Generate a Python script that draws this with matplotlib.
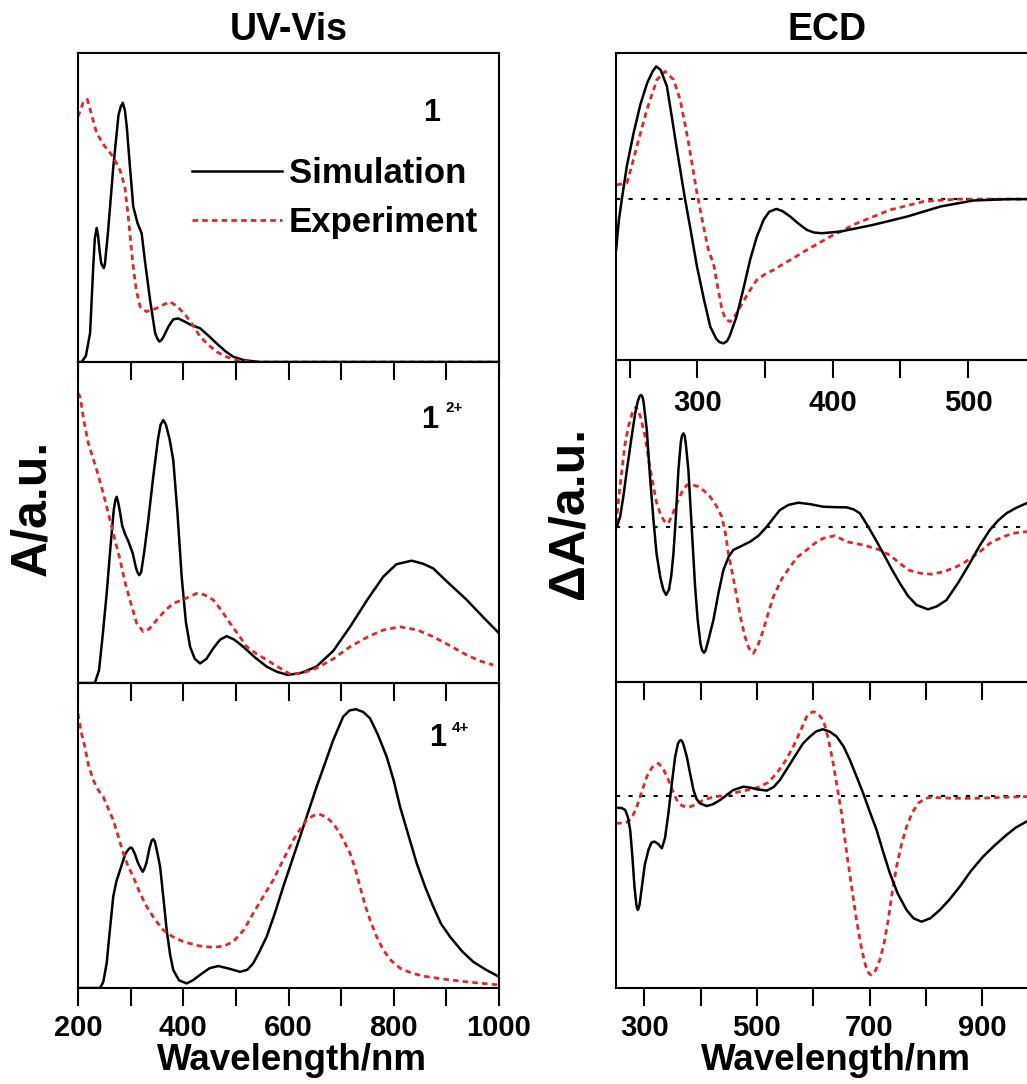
import matplotlib
matplotlib.use('Agg')
from matplotlib import pyplot as plt

plt.rcParams['font.family'] = ['Liberation Sans', 'DejaVu Sans']
plt.rcParams['font.weight'] = 'bold'

# ---------------- UV-Vis data (a.u.) ----------------
uv1_sim_nm = [200, 207, 215, 223, 229, 232, 235.5, 238, 241, 244, 247, 249, 251, 257, 267, 277, 281, 285,
              289, 292.6, 298.7, 305, 313, 321, 327, 337, 346.6, 351, 354.5, 358, 362, 372, 381, 390.6,
              400, 415, 432, 448, 463.5, 480, 495, 515, 546, 1000]
uv1_sim = [0, 0, 0.02, 0.094, 0.31, 0.40, 0.434, 0.41, 0.36, 0.32, 0.31, 0.304, 0.315, 0.42, 0.63, 0.80,
           0.825, 0.839, 0.815, 0.763, 0.632, 0.503, 0.45, 0.416, 0.33, 0.2, 0.093, 0.075, 0.066, 0.07, 0.08,
           0.115, 0.138, 0.141, 0.133, 0.12, 0.109, 0.085, 0.06, 0.035, 0.017, 0.006, 0, 0]
uv1_exp_nm = [200, 210, 217.7, 226, 235.5, 250, 267, 280, 289, 295.6, 300, 305, 311, 318, 330, 349.5,
              362, 375, 390, 406.5, 420, 432, 448, 463.5, 480, 501.5, 530, 1000]
uv1_exp = [0.794, 0.84, 0.85, 0.8, 0.74, 0.7, 0.664, 0.62, 0.567, 0.47, 0.39, 0.308, 0.23, 0.179, 0.163, 0.174,
           0.185, 0.195, 0.178, 0.147, 0.115, 0.082, 0.055, 0.033, 0.018, 0.006, 0, 0]

uv2_sim_nm = [200, 232, 240, 247, 254.5, 262, 268, 271, 273.5, 276, 279, 284, 289, 296, 304, 310, 313,
              316.5, 320, 326, 333, 343, 352, 357, 362, 367, 374, 381, 389, 397, 405, 413, 422, 432, 444,
              457, 470, 482.5, 497, 514, 536, 558.5, 578, 599, 625, 653, 685, 717, 750, 780, 805, 834,
              855, 875, 905, 938.7, 970, 1000]
uv2_sim = [0, 0, 0.04, 0.15, 0.279, 0.43, 0.54, 0.57, 0.58, 0.565, 0.54, 0.49, 0.466, 0.44, 0.404, 0.36, 0.345,
           0.336, 0.345, 0.41, 0.5, 0.643, 0.76, 0.805, 0.819, 0.805, 0.76, 0.695, 0.53, 0.331, 0.19, 0.113,
           0.075, 0.061, 0.075, 0.108, 0.135, 0.146, 0.135, 0.113, 0.08, 0.051, 0.035, 0.025, 0.032, 0.051,
           0.1, 0.175, 0.26, 0.331, 0.37, 0.381, 0.372, 0.357, 0.31, 0.259, 0.205, 0.155]
uv2_exp_nm = [200, 204, 212, 219.6, 235.5, 248, 264, 280, 290, 298.6, 311.5, 324, 335, 349.5, 365, 381,
              400, 425.5, 440, 457, 473, 489, 505, 520.5, 540, 558.5, 580, 603, 625, 653, 685, 717, 750,
              780, 812, 845, 875, 905, 938.7, 965, 989]
uv2_exp = [0.903, 0.892, 0.81, 0.747, 0.664, 0.591, 0.487, 0.383, 0.31, 0.259, 0.186, 0.16, 0.168, 0.196,
           0.225, 0.248, 0.26, 0.279, 0.275, 0.259, 0.225, 0.186, 0.15, 0.113, 0.09, 0.072, 0.05, 0.028, 0.03,
           0.046, 0.075, 0.113, 0.143, 0.165, 0.175, 0.165, 0.144, 0.118, 0.087, 0.068, 0.056]

uv3_sim_nm = [200, 242, 248, 254.5, 260, 267, 273, 280, 290, 296, 300, 303, 308, 314, 320, 323, 326, 330,
              336, 340, 343, 346, 350, 356, 362, 368.5, 375, 381, 392, 406.5, 418, 432, 450, 466.6, 488,
              508, 522, 533, 545, 558.5, 575, 590, 606, 622, 638, 653.5, 670, 685, 704, 716, 728, 742, 755,
              770, 786.6, 800, 812, 828, 843.6, 860, 875, 890, 907, 930, 951, 975, 1000]
uv3_sim = [0, 0, 0.02, 0.081, 0.18, 0.3, 0.35, 0.387, 0.44, 0.455, 0.461, 0.458, 0.44, 0.41, 0.39, 0.381,
           0.39, 0.41, 0.46, 0.483, 0.488, 0.48, 0.45, 0.398, 0.3, 0.19, 0.11, 0.059, 0.025, 0.015, 0.025,
           0.043, 0.065, 0.072, 0.063, 0.053, 0.06, 0.081, 0.12, 0.168, 0.25, 0.332, 0.414, 0.496, 0.58,
           0.66, 0.74, 0.813, 0.89, 0.91, 0.914, 0.905, 0.884, 0.83, 0.758, 0.68, 0.594, 0.5, 0.409, 0.33,
           0.267, 0.21, 0.168, 0.12, 0.086, 0.06, 0.037]
uv3_exp_nm = [200, 206, 213, 220, 229, 238, 248, 257, 267, 276, 286, 295, 305, 318, 330.5, 346, 362, 380,
              400, 430, 457, 478, 495, 515, 533, 552, 571, 590, 609, 622, 634.6, 647, 658.6, 672, 685,
              700, 717, 727, 736, 745, 755, 767, 780, 795, 812, 835, 862.6, 900, 938.7, 970, 999]
uv3_exp = [0.9, 0.84, 0.791, 0.73, 0.682, 0.65, 0.627, 0.59, 0.551, 0.5, 0.442, 0.4, 0.365, 0.31, 0.267,
           0.225, 0.19, 0.168, 0.152, 0.138, 0.133, 0.138, 0.152, 0.19, 0.245, 0.3, 0.354, 0.42, 0.485, 0.52,
           0.551, 0.565, 0.57, 0.56, 0.54, 0.5, 0.442, 0.39, 0.332, 0.275, 0.223, 0.17, 0.125, 0.09, 0.065,
           0.048, 0.037, 0.028, 0.02, 0.015, 0.01]

# ---------------- ECD data (a.u.) ----------------
ecd1_sim_nm = [240.1, 242, 244.3, 248, 253, 258, 263, 267, 269.7, 273, 277.6, 281, 285, 291, 295, 299.8,
               305, 309.6, 314, 316.5, 319.4, 322, 324, 329, 334, 339, 344, 349, 353, 358.4, 363, 368.7,
               375, 381, 386, 392, 405.7, 430, 455, 479.6, 504, 530, 552]
ecd1_sim = [-0.338, -0.15, 0, 0.22, 0.44, 0.63, 0.773, 0.85, 0.884, 0.86, 0.751, 0.56, 0.329, 0, -0.2, -0.449,
            -0.67, -0.849, -0.93, -0.952, -0.96, -0.945, -0.91, -0.782, -0.6, -0.405, -0.25, -0.138, -0.085,
            -0.065, -0.08, -0.116, -0.165, -0.205, -0.222, -0.227, -0.216, -0.171, -0.116, -0.049, -0.009, 0, 0]
ecd1_exp_nm = [240.6, 248, 251, 255.4, 262.8, 270.2, 276.3, 282.5, 287.4, 290.5, 293.6, 299.8, 304.7, 308,
               310.9, 312.5, 314.6, 318.3, 321, 324.4, 328, 331.8, 338, 344, 350, 356.4, 362, 368.7, 381,
               398.3, 418, 442.6, 467, 492, 552]
ecd1_exp = [0.095, 0.107, 0.2, 0.351, 0.595, 0.795, 0.851, 0.795, 0.662, 0.52, 0.373, 0.04, -0.183, -0.33,
            -0.405, -0.45, -0.56, -0.738, -0.8, -0.816, -0.775, -0.716, -0.62, -0.538, -0.5, -0.471, -0.44,
            -0.405, -0.338, -0.249, -0.16, -0.071, -0.016, 0, 0]

ecd2_sim_nm = [251.6, 257.4, 263, 269.3, 277, 284, 289, 292, 294.7, 297, 299, 304.7, 310, 316.5, 322, 328.4,
               334, 339, 344, 348, 352, 356, 360.8, 365, 367, 369.7, 372, 374, 378.5, 384, 390.4, 395, 400,
               403, 406.4, 409, 413, 422.9, 432, 440.6, 450, 458.3, 472, 488, 503, 517.6, 530, 541, 556,
               573.6, 595, 617.9, 640, 659.4, 672, 683, 697.7, 710, 724.3, 739, 753.9, 768, 783.5, 804, 820,
               836.7, 858, 878, 895, 913.5, 928, 943, 960, 978.5, 1000]
ecd2_sim = [0, 0.067, 0.2, 0.378, 0.58, 0.756, 0.84, 0.87, 0.878, 0.865, 0.83, 0.645, 0.35, 0.045, -0.18,
            -0.333, -0.42, -0.455, -0.42, -0.33, -0.177, 0.05, 0.378, 0.56, 0.605, 0.622, 0.605, 0.55, 0.378,
            0.02, -0.4, -0.62, -0.78, -0.825, -0.84, -0.825, -0.77, -0.622, -0.44, -0.289, -0.2, -0.155, -0.13,
            -0.1, -0.06, 0, 0.06, 0.111, 0.145, 0.16, 0.15, 0.133, 0.13, 0.129, 0.115, 0.089, 0, -0.08, -0.177,
            -0.28, -0.377, -0.46, -0.522, -0.551, -0.53, -0.489, -0.37, -0.244, -0.13, -0.022, 0.04, 0.089,
            0.125, 0.156, 0.18]
ecd2_exp_nm = [250.4, 255, 260.5, 266, 272, 279, 285.8, 293, 301.8, 309, 316.5, 322, 328.4, 335, 343, 350,
               358, 367, 375.7, 385, 396, 406, 417, 428, 437.8, 444, 449.5, 457, 464.4, 472, 479, 486,
               493.8, 502, 511.5, 520, 529.3, 544, 558.9, 573, 588.5, 603, 618, 638.7, 659.4, 688.8, 718.4,
               736, 753.9, 770, 790, 810, 832, 854.4, 870, 884, 900, 913.5, 935, 954.8, 978.5, 1000]
ecd2_exp = [0.022, 0.2, 0.378, 0.55, 0.667, 0.76, 0.8, 0.74, 0.6, 0.42, 0.267, 0.16, 0.089, 0.04, 0.022, 0.08,
            0.156, 0.23, 0.278, 0.28, 0.267, 0.24, 0.2, 0.14, 0.067, -0.04, -0.177, -0.32, -0.467, -0.62,
            -0.733, -0.81, -0.844, -0.79, -0.689, -0.58, -0.467, -0.35, -0.267, -0.2, -0.155, -0.11, -0.077,
            -0.06, -0.1, -0.122, -0.155, -0.19, -0.244, -0.29, -0.31, -0.317, -0.3, -0.267, -0.235, -0.2,
            -0.155, -0.111, -0.07, -0.044, -0.033, -0.025]

ecd3_sim_nm = [250.4, 260, 266.3, 271, 275.2, 279, 282.8, 286, 287.5, 288.8, 290.5, 292, 296, 301, 307.6, 313,
               318.3, 325, 331.4, 337, 343, 349, 355, 360, 362.5, 365, 367.5, 370, 375.7, 381, 387.5, 393,
               399.3, 411, 422, 434.8, 446, 458.3, 476, 490, 499.8, 517.6, 530, 541, 555, 570.7, 582, 594.3,
               605, 616.8, 629, 641.7, 654, 665.2, 677, 688.8, 700, 712.6, 724, 736.2, 750, 765.8, 778,
               792.4, 808, 824.8, 842, 860.3, 880, 901.6, 922, 943, 960, 978.5, 1000]
ecd3_sim = [-0.078, -0.08, -0.093, -0.14, -0.227, -0.4, -0.604, -0.72, -0.75, -0.76, -0.745, -0.72, -0.604,
            -0.46, -0.36, -0.31, -0.304, -0.32, -0.349, -0.28, -0.116, 0.08, 0.262, 0.35, 0.365, 0.373, 0.365,
            0.34, 0.262, 0.16, 0.04, -0.02, -0.049, -0.067, -0.055, -0.027, 0.005, 0.04, 0.062, 0.055, 0.045,
            0.036, 0.06, 0.107, 0.19, 0.284, 0.35, 0.396, 0.43, 0.445, 0.43, 0.396, 0.33, 0.24, 0.13, 0.018,
            -0.1, -0.227, -0.37, -0.515, -0.65, -0.76, -0.815, -0.838, -0.815, -0.76, -0.69, -0.604, -0.5,
            -0.404, -0.33, -0.26, -0.21, -0.171, -0.13]
ecd3_exp_nm = [250.4, 262, 272, 280, 287, 295, 304.7, 314, 325.4, 334, 343, 350, 358, 367, 378.5, 390, 405,
               420, 434.8, 450, 470.2, 490, 505.7, 520, 535.3, 550, 564.7, 577, 588.5, 595, 600.2, 605, 609,
               618, 627, 635.6, 643, 650.5, 656, 662.2, 670, 677, 685, 691.8, 697, 700, 703.7, 707, 711,
               718.4, 726, 733.2, 740, 748, 757, 765.8, 776, 786.5, 797, 807.3, 850, 884, 930, 978.5, 1000]
ecd3_exp = [-0.182, -0.18, -0.171, -0.13, -0.071, 0.02, 0.129, 0.19, 0.218, 0.18, 0.107, 0.04, -0.027, -0.065,
            -0.076, -0.06, -0.027, -0.01, 0, 0.012, 0.029, 0.045, 0.062, 0.09, 0.151, 0.23, 0.329, 0.43, 0.529,
            0.553, 0.562, 0.556, 0.545, 0.507, 0.38, 0.218, 0.05, -0.115, -0.28, -0.449, -0.65, -0.827, -1.0,
            -1.115, -1.17, -1.187, -1.193, -1.185, -1.16, -1.093, -0.98, -0.827, -0.65, -0.471, -0.32, -0.205,
            -0.11, -0.049, -0.02, -0.009, -0.015, -0.016, -0.01, -0.004, -0.005]

RED = '#e3262b'
W, H = 1027, 1084
fig = plt.figure(figsize=(W / 100, H / 100), dpi=100)


def px_axes(x0, y0, x1, y1):
    a = fig.add_axes([x0 / W, 1 - y1 / H, (x1 - x0) / W, (y1 - y0) / H])
    a.set_facecolor('none')
    for s in a.spines.values():
        s.set_linewidth(1.5)
    a.tick_params(axis='y', left=False, labelleft=False)
    a.tick_params(axis='x', direction='out', length=13, width=1.5, labelsize=21, pad=6)
    return a


def set_xticks(a, ticks, shown):
    a.set_xticks(ticks)
    a.set_xticklabels([str(t) if t in shown else '' for t in ticks])


left = [px_axes(78, 53, 499, 362), px_axes(78, 362, 499, 683), px_axes(78, 683, 499, 988)]
right = [px_axes(616, 53, 1038.5, 360), px_axes(616, 360, 1038.5, 682), px_axes(616, 682, 1038.5, 988)]

uv_sets = [(uv1_sim_nm, uv1_sim, uv1_exp_nm, uv1_exp),
           (uv2_sim_nm, uv2_sim, uv2_exp_nm, uv2_exp),
           (uv3_sim_nm, uv3_sim, uv3_exp_nm, uv3_exp)]
ecd_sets = [(ecd1_sim_nm, ecd1_sim, ecd1_exp_nm, ecd1_exp),
            (ecd2_sim_nm, ecd2_sim, ecd2_exp_nm, ecd2_exp),
            (ecd3_sim_nm, ecd3_sim, ecd3_exp_nm, ecd3_exp)]

SIM_KW = dict(color='k', lw=1.8, solid_joinstyle='round')
EXP_KW = dict(color=RED, lw=2.0, ls=(0, (2.0, 1.5)))

for i, a in enumerate(left):
    sx, sy, ex, ey = uv_sets[i]
    l_sim, = a.plot(sx, sy, label='Simulation', **SIM_KW)
    l_exp, = a.plot(ex, ey, label='Experiment', **EXP_KW)
    a.set_xlim(200, 1000)
    a.set_ylim(0, 1)
    set_xticks(a, list(range(200, 1001, 100)), [200, 400, 600, 800, 1000])
    if i < 2:
        a.tick_params(axis='x', labelbottom=False)
    if i == 0:
        a.legend(handles=[l_sim, l_exp], loc='center left', bbox_to_anchor=(0.27, 0.53),
                 frameon=False, fontsize=25, handlelength=2.6, handletextpad=0.2,
                 labelspacing=0.45, borderpad=0, borderaxespad=0)

# panel labels
left[0].text(0.841, 0.806, '1', transform=left[0].transAxes, fontsize=22, ha='center', va='center')
left[1].text(0.836, 0.819, '1', transform=left[1].transAxes, fontsize=22, ha='center', va='center')
left[1].text(0.893, 0.857, '2+', transform=left[1].transAxes, fontsize=11, ha='center', va='center')
left[2].text(0.854, 0.82, '1', transform=left[2].transAxes, fontsize=22, ha='center', va='center')
left[2].text(0.908, 0.852, '4+', transform=left[2].transAxes, fontsize=11, ha='center', va='center')

ecd_ylims = [(-1.071, 0.973), (-1.035, 1.111), (-1.28, 0.76)]
for i, a in enumerate(right):
    sx, sy, ex, ey = ecd_sets[i]
    a.axhline(0, color='k', lw=1.5, ls=(0, (2, 4)), zorder=1)
    a.plot(sx, sy, zorder=3, **SIM_KW)
    a.plot(ex, ey, zorder=2, **EXP_KW)
    a.set_ylim(*ecd_ylims[i])
    if i == 0:
        a.set_xlim(240, 552)
        set_xticks(a, list(range(250, 551, 50)), [300, 400, 500])
        a.tick_params(axis='x', pad=8)
    else:
        a.set_xlim(250, 1000)
        set_xticks(a, list(range(300, 1001, 100)), [300, 500, 700, 900])
        if i == 1:
            a.tick_params(axis='x', labelbottom=False)

fig.text(288.5 / W, 1 - 30 / H, 'UV-Vis', ha='center', va='center', fontsize=27)
fig.text(827 / W, 1 - 30 / H, 'ECD', ha='center', va='center', fontsize=27)
fig.text(32 / W, 1 - 508 / H, 'A/a.u.', rotation=90, ha='center', va='center', fontsize=36)
fig.text(570 / W, 1 - 513 / H, '\u0394A/a.u.', rotation=90, ha='center', va='center', fontsize=36)
fig.text(292 / W, 1 - 1061 / H, 'Wavelength/nm', ha='center', va='center', fontsize=26.5)
fig.text(836 / W, 1 - 1061 / H, 'Wavelength/nm', ha='center', va='center', fontsize=26.5)

fig.savefig('out.png', dpi=100)
